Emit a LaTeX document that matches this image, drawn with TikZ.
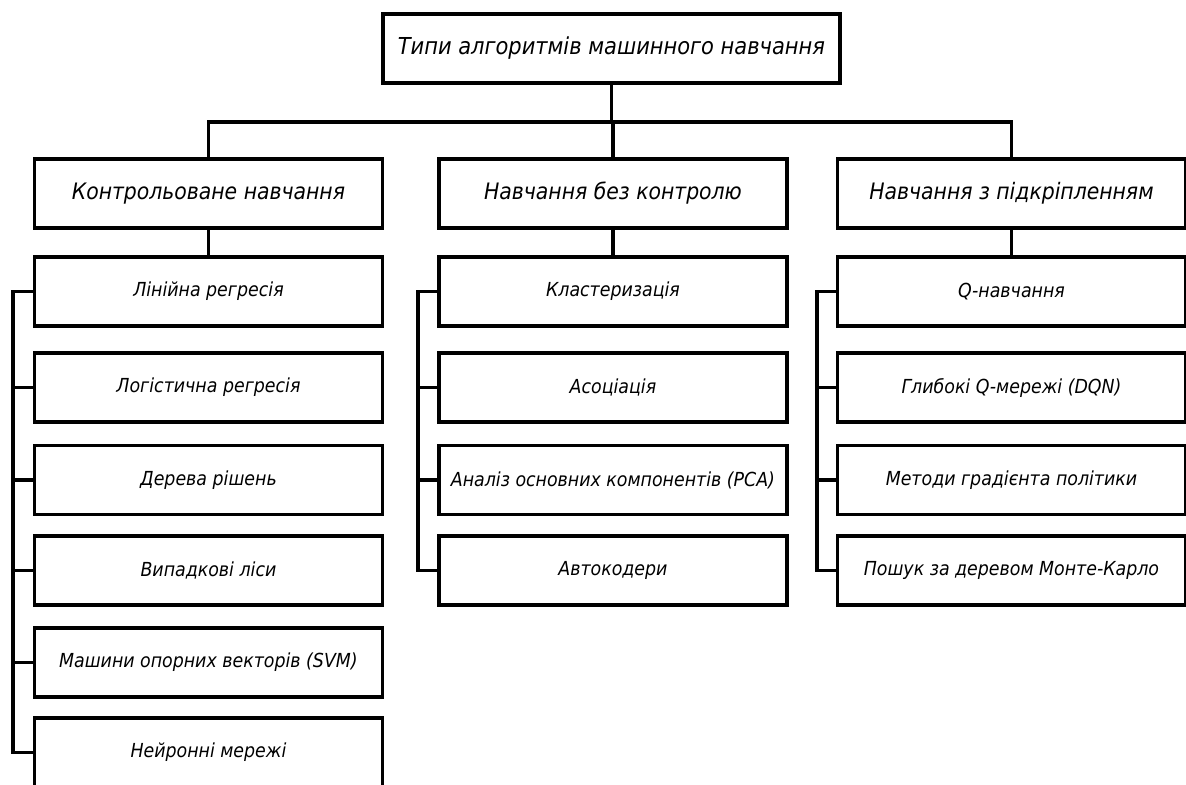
\documentclass[tikz,border=0pt]{standalone}
\usepackage{fontspec}
\setmainfont{DejaVu Sans Condensed}
\begin{document}
\begin{tikzpicture}[x=0.75pt,y=-0.75pt,
  box/.style={draw=black,line width=2.3pt,fill=white,inner sep=0pt,outer sep=0pt,
    minimum height=69*0.75pt,font=\itshape},
  topbox/.style={box,minimum width=457*0.75pt,font=\itshape\fontsize{17.5}{21}\selectfont},
  groupbox/.style={box,minimum width=348*0.75pt,font=\itshape\fontsize{17}{21}\selectfont},
  itembox/.style={box,minimum width=348*0.75pt,font=\itshape\fontsize{14.5}{18}\selectfont},
  link/.style={draw=black,line width=2.3pt}]
\clip (0,0) rectangle (1186,785);
\fill[white] (0,0) rectangle (1186,785);

% root
\node[topbox] (root) at (611.5,48.5) {Типи алгоритмів машинного навчання};

% groups
\node[groupbox] (sup) at (208.5,193.5) {Контрольоване навчання};
\node[groupbox] (uns) at (613,193.5) {Навчання без контролю};
\node[groupbox] (rl)  at (1011.5,193.5) {Навчання з підкріпленням};

% supervised items
\node[itembox] (s1) at (208.5,291.5) {Лінійна регресія};
\node[itembox] (s2) at (208.5,387.5) {Логістична регресія};
\node[itembox] (s3) at (208.5,480) {Дерева рішень};
\node[itembox] (s4) at (208.5,570.5) {Випадкові ліси};
\node[itembox] (s5) at (208.5,662.5) {Машини опорних векторів (SVM)};
\node[itembox] (s6) at (208.5,752.5) {Нейронні мережі};

% unsupervised items
\node[itembox] (u1) at (613,291.5) {Кластеризація};
\node[itembox] (u2) at (613,387.5) {Асоціація};
\node[itembox] (u3) at (613,480) {Аналіз основних компонентів (PCA)};
\node[itembox] (u4) at (613,570.5) {Автокодери};

% reinforcement items
\node[itembox] (r1) at (1011.5,291.5) {Q-навчання};
\node[itembox] (r2) at (1011.5,387.5) {Глибокі Q-мережі (DQN)};
\node[itembox] (r3) at (1011.5,480) {Методи градієнта політики};
\node[itembox] (r4) at (1011.5,570.5) {Пошук за деревом Монте-Карло};

% bus lines
\coordinate (bus) at (0,122);
\coordinate (sbus) at (13,0);
\coordinate (ubus) at (418,0);
\coordinate (rbus) at (817,0);

\draw[link] (root.south) -- (root.south |- bus);
\draw[link] (sup.north) -- (sup.north |- bus) -- (rl.north |- bus) -- (rl.north);
\draw[link] (uns.north) -- (uns.north |- bus);

\draw[link] (sup.south) -- (s1.north);
\draw[link] (uns.south) -- (u1.north);
\draw[link] (rl.south) -- (r1.north);

\draw[link] (s1.west) -- (s1.west -| sbus) -- (s6.west -| sbus) -- (s6.west);
\foreach \n in {s2,s3,s4,s5} \draw[link] (\n.west) -- (\n.west -| sbus);

\draw[link] (u1.west) -- (u1.west -| ubus) -- (u4.west -| ubus) -- (u4.west);
\foreach \n in {u2,u3} \draw[link] (\n.west) -- (\n.west -| ubus);

\draw[link] (r1.west) -- (r1.west -| rbus) -- (r4.west -| rbus) -- (r4.west);
\foreach \n in {r2,r3} \draw[link] (\n.west) -- (\n.west -| rbus);
\end{tikzpicture}
\end{document}
